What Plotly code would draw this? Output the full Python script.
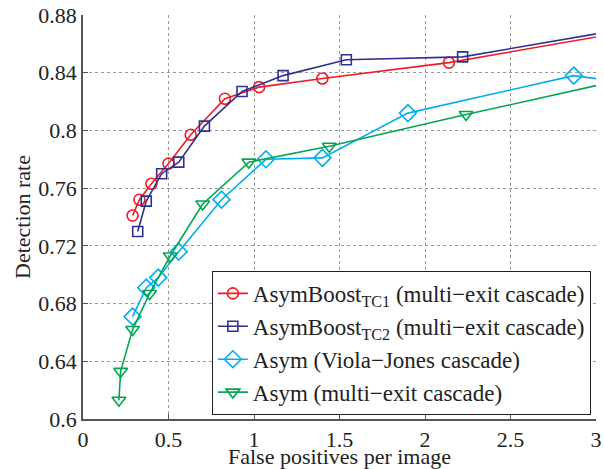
import plotly.graph_objects as go

tc1_x = [0.29, 0.33, 0.40, 0.50, 0.63, 0.83, 1.03, 1.40, 2.14, 3.30]
tc1_y = [0.741, 0.752, 0.763, 0.777, 0.797, 0.822, 0.830, 0.836, 0.847, 0.871]

tc2_x = [0.32, 0.37, 0.46, 0.56, 0.71, 0.93, 1.17, 1.54, 2.22, 3.30]
tc2_y = [0.730, 0.751, 0.770, 0.778, 0.803, 0.827, 0.838, 0.849, 0.851, 0.873]

vj_x = [0.29, 0.37, 0.44, 0.56, 0.81, 1.07, 1.40, 1.90, 2.87, 3.30]
vj_y = [0.671, 0.691, 0.698, 0.716, 0.752, 0.780, 0.781, 0.812, 0.838, 0.831]

me_x = [0.21, 0.22, 0.29, 0.39, 0.51, 0.70, 0.97, 1.44, 2.24, 3.30]
me_y = [0.613, 0.633, 0.662, 0.687, 0.713, 0.749, 0.778, 0.789, 0.811, 0.839]

x_ticks = [0, 0.5, 1, 1.5, 2, 2.5, 3]
x_ticklabels = ["0", "0.5", "1", "1.5", "2", "2.5", "3"]
y_ticks = [0.6, 0.64, 0.68, 0.72, 0.76, 0.8, 0.84, 0.88]
y_ticklabels = ["0.6", "0.64", "0.68", "0.72", "0.76", "0.8", "0.84", "0.88"]

names = [
    "AsymBoost<sub>TC1</sub> (multi\u2212exit cascade)",
    "AsymBoost<sub>TC2</sub> (multi\u2212exit cascade)",
    "Asym (Viola\u2212Jones cascade)",
    "Asym (multi\u2212exit cascade)",
]
colors = ["#ed1c24", "#2e3192", "#00aeef", "#00a651"]
symbols = ["circle-open", "square-open", "diamond-open", "triangle-down-open"]
sizes = [11, 10, 13, 12]
xs = [tc1_x, tc2_x, vj_x, me_x]
ys = [tc1_y, tc2_y, vj_y, me_y]

fig = go.Figure()
for x, y, n, c, s, sz in zip(xs, ys, names, colors, symbols, sizes):
    fig.add_trace(go.Scatter(
        x=x, y=y, name=n, mode="lines+markers",
        line=dict(color=c, width=1.6),
        marker=dict(symbol=s, size=sz, color=c, line=dict(color=c, width=1.6)),
    ))

font = "Liberation Serif, Times New Roman, serif"
tcol = "#222"
axis_common = dict(
    showline=True, linecolor="#555", linewidth=1.5, mirror=False,
    ticks="inside", ticklen=5, tickcolor="#555", tickwidth=1,
    showgrid=True, gridcolor="#999", griddash="dot", gridwidth=1,
    zeroline=False, tickfont=dict(family=font, size=22, color=tcol),
    automargin=False, ticklabeloverflow="allow",
)
fig.update_xaxes(range=[0, 3], tickvals=x_ticks, ticktext=x_ticklabels,
                 title=dict(text="False positives per image",
                            font=dict(family=font, size=22, color=tcol), standoff=0),
                 **axis_common)
fig.update_yaxes(range=[0.6, 0.88], tickvals=y_ticks, ticktext=y_ticklabels,
                 title=dict(text="Detection rate",
                            font=dict(family=font, size=22, color=tcol), standoff=2),
                 **axis_common)
fig.update_layout(
    width=604, height=469,
    margin=dict(l=83, r=8, t=15, b=50),
    paper_bgcolor="white", plot_bgcolor="white",
    font=dict(family=font, color=tcol),
    legend=dict(x=0.99, y=0.01, xanchor="right", yanchor="bottom",
                bgcolor="white", bordercolor="#222", borderwidth=1,
                font=dict(family=font, size=23, color=tcol),
                tracegroupgap=0),
)
# remove the browser's default 8px body margin so the figure sits at (0, 0)
fig.write_html("out.html",
               config={"displayModeBar": False},
               post_script="document.body.style.margin='0px';document.body.style.overflow='hidden';")
